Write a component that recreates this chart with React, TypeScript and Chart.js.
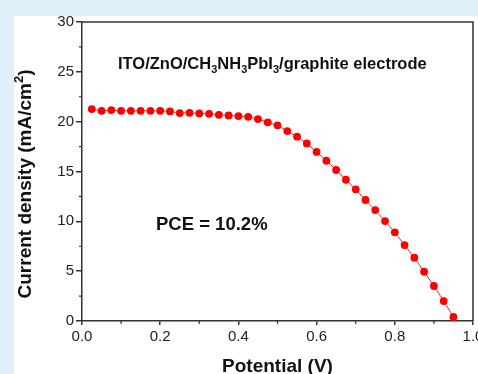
import React, { useEffect, useRef } from 'react';
import { Chart, registerables } from 'chart.js';

Chart.register(...registerables);

const FONT = '"Liberation Sans", Arial, Helvetica, sans-serif';

// Potential (V)
const potentialV = [
  0.025, 0.05, 0.075, 0.1, 0.125, 0.15, 0.175, 0.2, 0.225, 0.25,
  0.275, 0.3, 0.325, 0.35, 0.375, 0.4, 0.425, 0.45, 0.475, 0.5,
  0.525, 0.55, 0.575, 0.6, 0.625, 0.65, 0.675, 0.7, 0.725, 0.75,
  0.775, 0.8, 0.825, 0.85, 0.875, 0.9, 0.925, 0.95,
];

// Current density (mA/cm2)
const currentDensity = [
  21.26, 21.09, 21.16, 21.09, 21.09, 21.09, 21.09, 21.09, 21.03, 20.86,
  20.89, 20.83, 20.79, 20.69, 20.63, 20.56, 20.49, 20.26, 19.93, 19.63,
  19.06, 18.49, 17.82, 16.96, 16.08, 15.15, 14.17, 13.21, 12.14, 11.13,
  10.03, 8.9, 7.62, 6.35, 4.94, 3.51, 2.0, 0.4,
];

const xMinorTicks = [0.1, 0.3, 0.5, 0.7, 0.9];
const yMinorTicks = [2.5, 7.5, 12.5, 17.5, 22.5, 27.5];

const xTitle = 'Potential (V)';
const yTitleRuns = [
  { text: 'Current density (mA/cm', sub: 0 },
  { text: '2', sub: -1 },
  { text: ')', sub: 0 },
];
const insetRuns = [
  { text: 'ITO/ZnO/CH', sub: 0 },
  { text: '3', sub: 1 },
  { text: 'NH', sub: 0 },
  { text: '3', sub: 1 },
  { text: 'PbI', sub: 0 },
  { text: '3', sub: 1 },
  { text: '/graphite electrode', sub: 0 },
];
const pceLabel = 'PCE = 10.2%';

type Run = { text: string; sub: number };

function runFont(size: number, r: Run) {
  const s = r.sub === 0 ? size : Math.round(size * 0.66);
  return `bold ${s}px ${FONT}`;
}

function runsWidth(ctx: CanvasRenderingContext2D, runs: Run[], size: number) {
  let w = 0;
  for (const r of runs) {
    ctx.font = runFont(size, r);
    w += ctx.measureText(r.text).width;
  }
  return w;
}

function drawRuns(ctx: CanvasRenderingContext2D, runs: Run[], size: number, x: number, y: number) {
  let cx = x;
  for (const r of runs) {
    ctx.font = runFont(size, r);
    const dy = r.sub === 1 ? size * 0.26 : r.sub === -1 ? -size * 0.42 : 0;
    ctx.fillText(r.text, cx, y + dy);
    cx += ctx.measureText(r.text).width;
  }
}

const decorPlugin = {
  id: 'decor',
  beforeDraw(chart: any) {
    const { ctx, width, height } = chart;
    ctx.save();
    ctx.fillStyle = '#dff0f9';
    ctx.fillRect(0, 0, width, height);
    ctx.fillStyle = '#ffffff';
    ctx.fillRect(14, 16, width - 14, height - 16);
    ctx.restore();
  },
  afterDraw(chart: any) {
    const { ctx, chartArea } = chart;
    const xs = chart.scales.x;
    const ys = chart.scales.y;
    ctx.save();
    // frame top/right
    ctx.strokeStyle = '#333';
    ctx.lineWidth = 1.5;
    ctx.beginPath();
    ctx.moveTo(chartArea.left, chartArea.top);
    ctx.lineTo(chartArea.right, chartArea.top);
    ctx.lineTo(chartArea.right, chartArea.bottom);
    ctx.stroke();
    // minor ticks
    ctx.lineWidth = 1.2;
    ctx.beginPath();
    for (const v of xMinorTicks) {
      const px = xs.getPixelForValue(v);
      ctx.moveTo(px, chartArea.bottom);
      ctx.lineTo(px, chartArea.bottom + 3);
    }
    for (const v of yMinorTicks) {
      const py = ys.getPixelForValue(v);
      ctx.moveTo(chartArea.left, py);
      ctx.lineTo(chartArea.left - 3, py);
    }
    ctx.stroke();

    ctx.fillStyle = '#111';
    ctx.textBaseline = 'alphabetic';
    ctx.textAlign = 'left';
    // inset title
    drawRuns(ctx, insetRuns, 16.5, 118, 69);
    // PCE
    ctx.font = `bold 18.5px ${FONT}`;
    ctx.fillText(pceLabel, 156, 230);
    // x title
    ctx.font = `bold 19px ${FONT}`;
    ctx.textAlign = 'center';
    ctx.fillText(xTitle, (chartArea.left + chartArea.right) / 2, 372);
    // y title
    ctx.textAlign = 'left';
    const w = runsWidth(ctx, yTitleRuns, 19);
    ctx.translate(31, 184);
    ctx.rotate(-Math.PI / 2);
    drawRuns(ctx, yTitleRuns, 19, -w / 2, 0);
    ctx.restore();
  },
};

export default function App() {
  const ref = useRef<HTMLCanvasElement | null>(null);

  useEffect(() => {
    if (!ref.current) return;
    const points = potentialV.map((v, i) => ({ x: v, y: currentDensity[i] }));
    const chart = new Chart(ref.current, {
      type: 'scatter',
      data: {
        datasets: [
          {
            data: points,
            showLine: true,
            borderColor: '#ff2a2a',
            borderWidth: 1,
            pointRadius: 3.9,
            pointBackgroundColor: '#ff0000',
            pointBorderColor: '#ff0000',
            pointBorderWidth: 0,
            tension: 0,
          },
        ],
      },
      options: {
        responsive: false,
        animation: false,
        events: [],
        layout: { padding: { left: 0, top: 22, right: 5, bottom: 0 } },
        plugins: { legend: { display: false }, tooltip: { enabled: false } },
        scales: {
          x: {
            type: 'linear',
            min: 0,
            max: 1,
            ticks: {
              stepSize: 0.2,
              autoSkip: false,
              maxRotation: 0,
              padding: 3,
              color: '#222',
              font: { size: 15, family: FONT },
              callback: (v: any) => Number(v).toFixed(1),
            },
            grid: { drawOnChartArea: false, drawTicks: true, tickLength: 4, color: '#333', lineWidth: 1.5 },
            border: { display: true, color: '#333', width: 1.5 },
            afterFit: (s: any) => {
              s.height = 53;
              s.paddingLeft = 0;
              s.paddingRight = 0;
            },
          },
          y: {
            type: 'linear',
            min: 0,
            max: 30,
            ticks: {
              stepSize: 5,
              padding: 2,
              color: '#222',
              font: { size: 15, family: FONT },
            },
            grid: { drawOnChartArea: false, drawTicks: true, tickLength: 6, color: '#333', lineWidth: 1.5 },
            border: { display: true, color: '#333', width: 1.5 },
            afterFit: (s: any) => {
              s.width = 82;
              s.paddingTop = 0;
              s.paddingBottom = 0;
            },
          },
        },
      } as any,
      plugins: [decorPlugin],
    });
    return () => chart.destroy();
  }, []);

  return (
    <div style={{ position: 'fixed', left: 0, top: 0, width: 478, height: 374 }}>
      <canvas ref={ref} width={478} height={374} style={{ display: 'block', width: 478, height: 374 }} />
    </div>
  );
}
